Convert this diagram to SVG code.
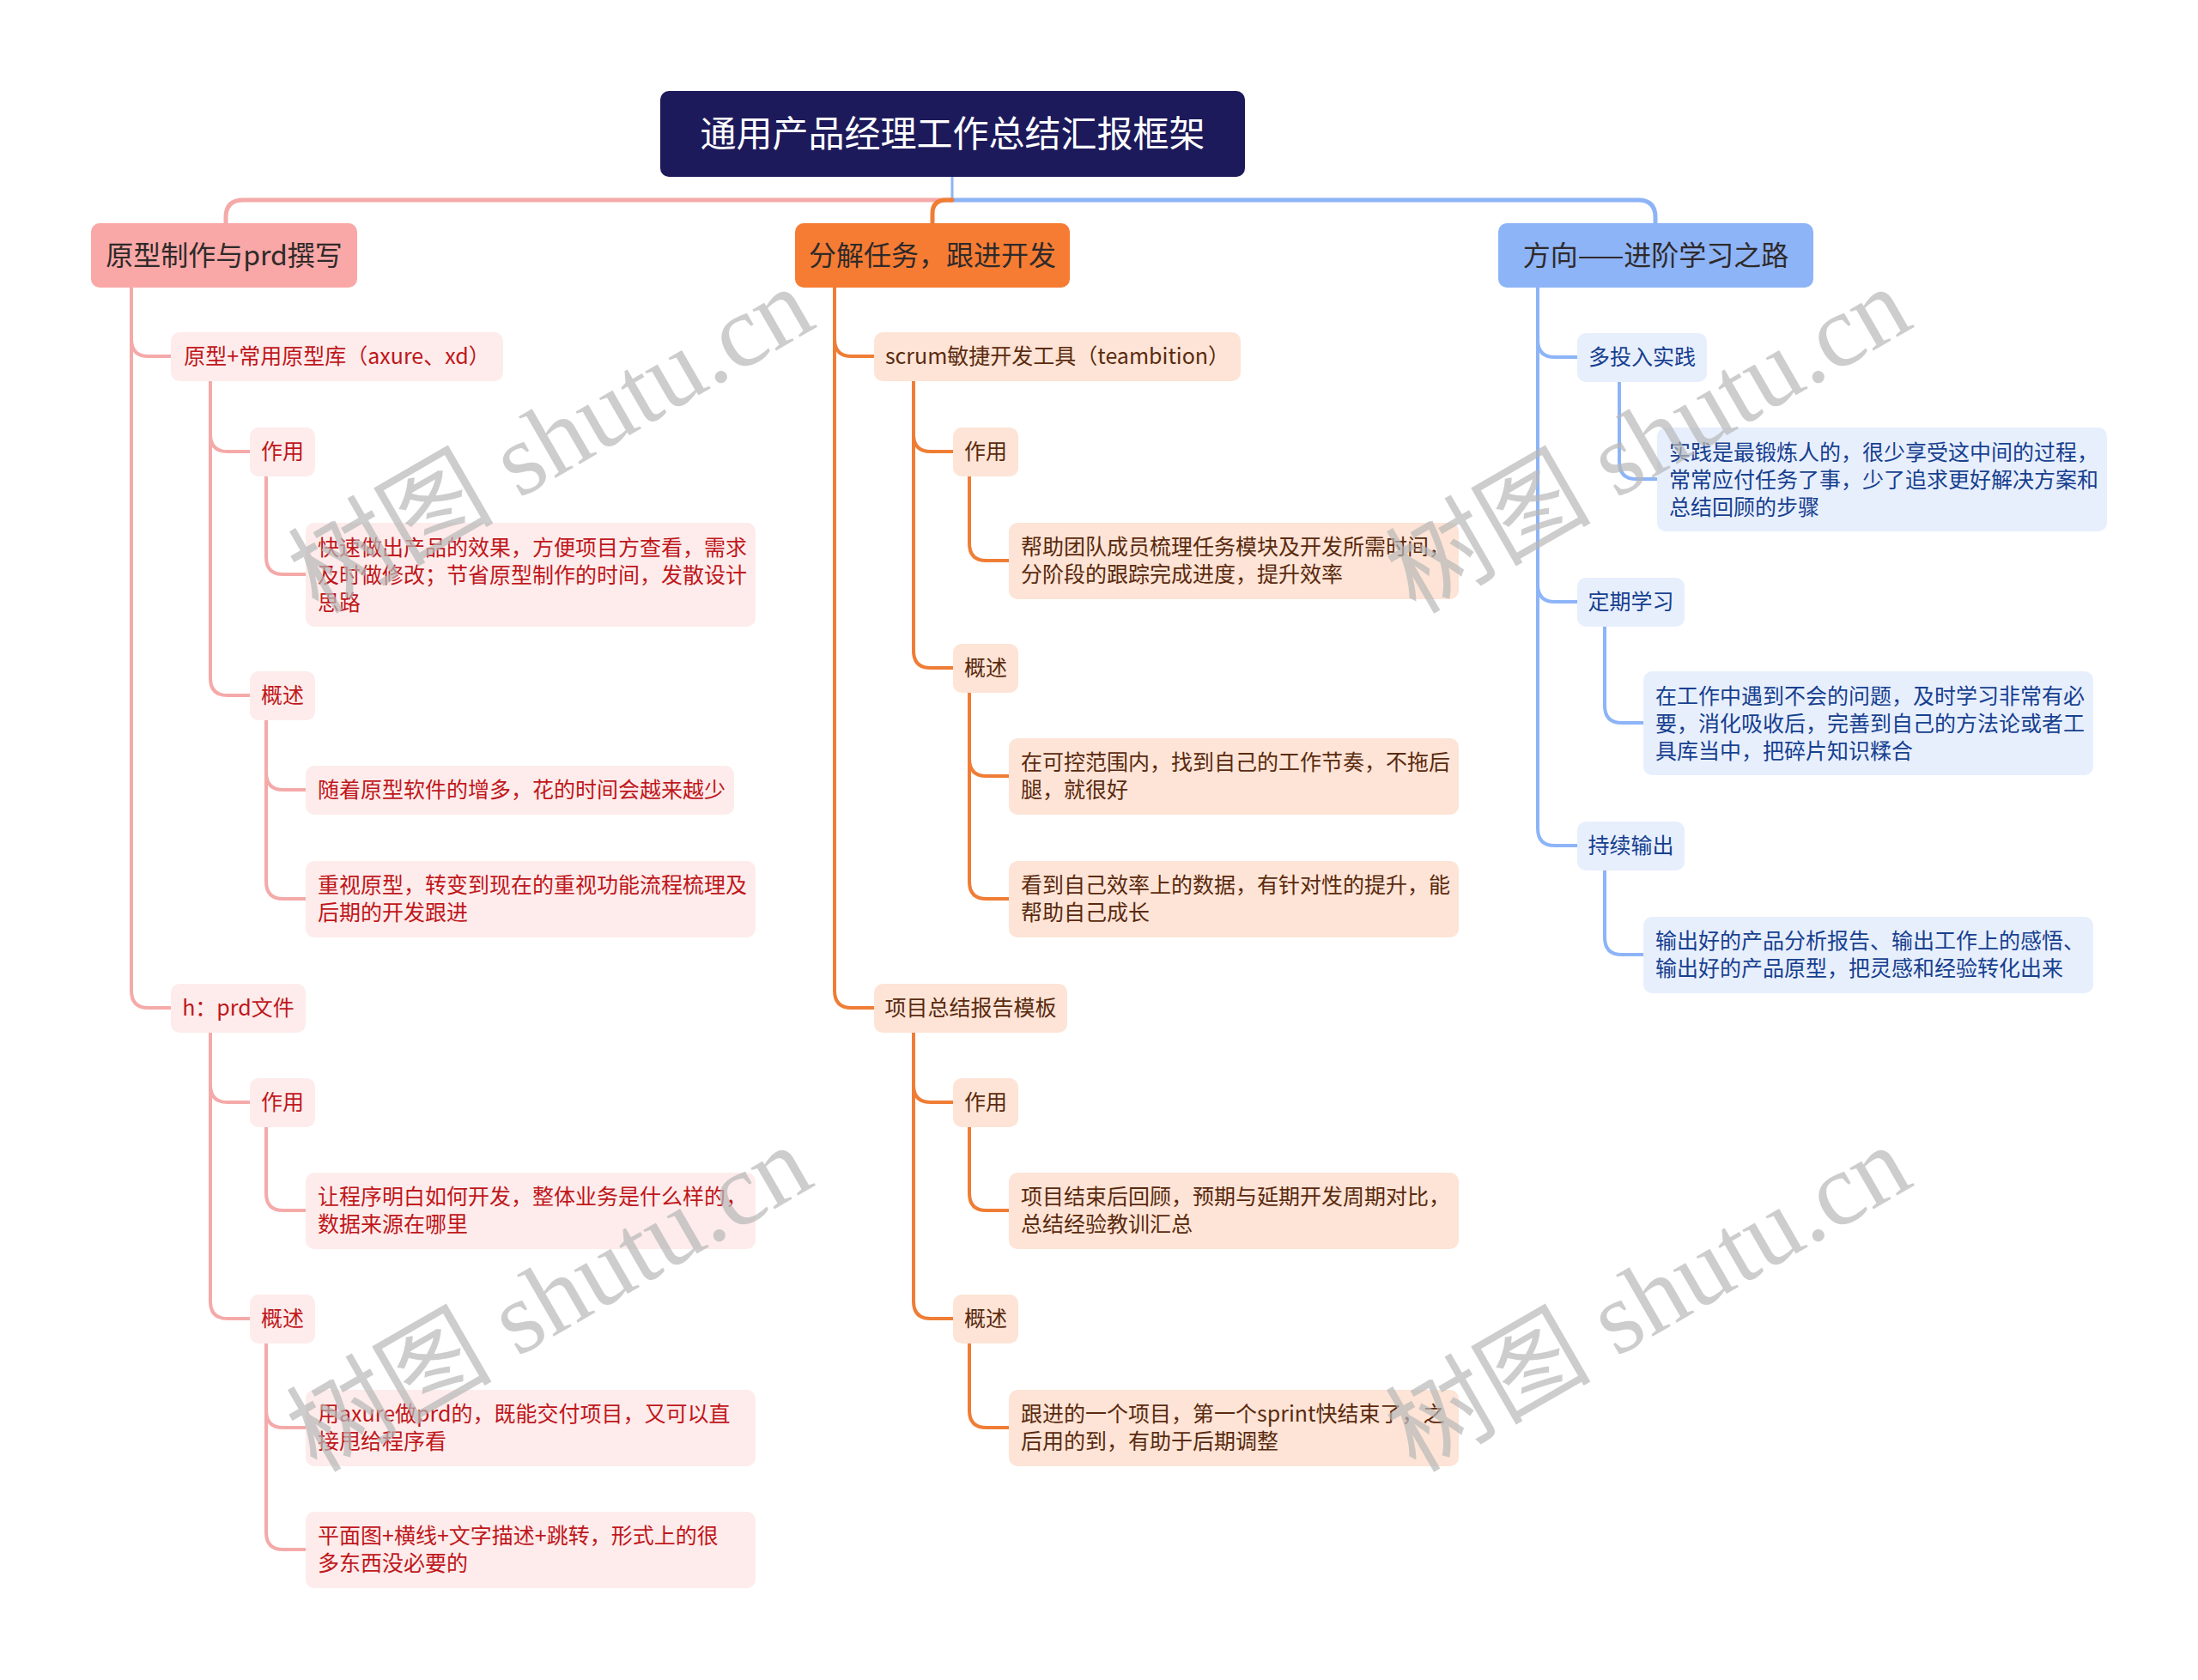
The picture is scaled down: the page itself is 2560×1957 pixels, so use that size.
<svg xmlns="http://www.w3.org/2000/svg" width="2560" height="1957" viewBox="0 0 2560 1957">
<style>
text{font-family:"Noto Sans CJK SC","Noto Sans",sans-serif}
.root{fill:#1d1a5b}
.rt{fill:#fff;font-size:42px}
.bt{fill:#2f2a2a;font-size:32px}
.b1{fill:#f9a8a7}.b2{fill:#f67c33}.b3{fill:#8db4f7}
.s1{fill:#fdeceb}.s2{fill:#fde4d6}.s3{fill:#e7effd}
.t1{fill:#c0171c;font-size:25px}.t2{fill:#5a2a0f;font-size:25px}.t3{fill:#17408f;font-size:25px}
.c{fill:none;stroke-linecap:round;stroke-linejoin:round}
.p{stroke:#f4aaa9}.o{stroke:#ef7d35}.u{stroke:#8db4f7}
.m{stroke-width:5}.n{stroke-width:4}
.wm{font-family:"Liberation Serif","Noto Sans CJK SC",serif;font-size:120px;fill:#b8b8b8;opacity:0.7}
</style>
<rect width="2560" height="1957" fill="#fff"/>
<g id="connectors">
<path class="c u" stroke-width="3" d="M1109,206 V233"/>
<path class="c p m" d="M1109,233 H283 Q263,233 263,253 V260"/>
<path class="c u m" d="M1109,233 H1908 Q1928,233 1928,253 V260"/>
<path class="c o m" d="M1109,233 H1102 Q1086,233 1086,249 V260"/>
<path class="c p n" d="M153,335 V395 Q153,415 173,415 H199"/>
<path class="c p n" d="M153,335 V1154 Q153,1174 173,1174 H199"/>
<path class="c p n" d="M245,444 V506 Q245,526 265,526 H291"/>
<path class="c p n" d="M245,444 V790 Q245,810 265,810 H291"/>
<path class="c p n" d="M310,555 V649 Q310,669 330,669 H356"/>
<path class="c p n" d="M310,839 V900 Q310,920 330,920 H356"/>
<path class="c p n" d="M310,839 V1027 Q310,1047 330,1047 H356"/>
<path class="c p n" d="M245,1203 V1264 Q245,1284 265,1284 H291"/>
<path class="c p n" d="M245,1203 V1516 Q245,1536 265,1536 H291"/>
<path class="c p n" d="M310,1313 V1390 Q310,1410 330,1410 H356"/>
<path class="c p n" d="M310,1565 V1643 Q310,1663 330,1663 H356"/>
<path class="c p n" d="M310,1565 V1785 Q310,1805 330,1805 H356"/>
<path class="c o n" d="M972,335 V395 Q972,415 992,415 H1018"/>
<path class="c o n" d="M972,335 V1154 Q972,1174 992,1174 H1018"/>
<path class="c o n" d="M1064,444 V506 Q1064,526 1084,526 H1110"/>
<path class="c o n" d="M1064,444 V758 Q1064,778 1084,778 H1110"/>
<path class="c o n" d="M1129,555 V633 Q1129,653 1149,653 H1175"/>
<path class="c o n" d="M1129,807 V884 Q1129,904 1149,904 H1175"/>
<path class="c o n" d="M1129,807 V1027 Q1129,1047 1149,1047 H1175"/>
<path class="c o n" d="M1064,1203 V1264 Q1064,1284 1084,1284 H1110"/>
<path class="c o n" d="M1064,1203 V1516 Q1064,1536 1084,1536 H1110"/>
<path class="c o n" d="M1129,1313 V1390 Q1129,1410 1149,1410 H1175"/>
<path class="c o n" d="M1129,1565 V1643 Q1129,1663 1149,1663 H1175"/>
<path class="c u n" d="M1791,335 V396 Q1791,416 1811,416 H1837"/>
<path class="c u n" d="M1791,335 V681 Q1791,701 1811,701 H1837"/>
<path class="c u n" d="M1791,335 V965 Q1791,985 1811,985 H1837"/>
<path class="c u n" d="M1886,445 V538 Q1886,558 1906,558 H1930"/>
<path class="c u n" d="M1869,730 V822 Q1869,842 1889,842 H1914"/>
<path class="c u n" d="M1869,1014 V1092 Q1869,1112 1889,1112 H1914"/>
</g>
<g id="root"><rect class="root" x="769" y="106" width="681" height="100" rx="10"/><text class="rt" x="1109.5" y="171" text-anchor="middle">通用产品经理工作总结汇报框架</text></g>
<g id="b1"><rect class="b1" x="106" y="260" width="310" height="75" rx="10"/><text class="bt" x="261" y="309" text-anchor="middle">原型制作与prd撰写</text></g>
<g id="b2"><rect class="b2" x="926" y="260" width="320" height="75" rx="10"/><text class="bt" x="1086" y="309" text-anchor="middle">分解任务，跟进开发</text></g>
<g id="b3"><rect class="b3" x="1745" y="260" width="367" height="75" rx="10"/><text class="bt" x="1928.5" y="309" text-anchor="middle">方向——进阶学习之路</text></g>

<g id="n1a"><rect class="s1" x="199" y="387" width="387" height="57" rx="10"/><text class="t1" x="392.5" y="424" text-anchor="middle">原型+常用原型库（axure、xd）</text></g>
<g id="n1a1"><rect class="s1" x="291" y="498" width="76" height="57" rx="10"/><text class="t1" x="329" y="535" text-anchor="middle">作用</text></g>
<g id="l1"><rect class="s1" x="356" y="609" width="524" height="121" rx="10"/><text class="t1" x="370" y="647">快速做出产品的效果，方便项目方查看，需求<tspan x="370" dy="32">及时做修改；节省原型制作的时间，发散设计</tspan><tspan x="370" dy="32">思路</tspan></text></g>
<g id="n1a2"><rect class="s1" x="291" y="782" width="76" height="57" rx="10"/><text class="t1" x="329" y="819" text-anchor="middle">概述</text></g>
<g id="l2"><rect class="s1" x="356" y="892" width="499" height="57" rx="10"/><text class="t1" x="370" y="929">随着原型软件的增多，花的时间会越来越少</text></g>
<g id="l3"><rect class="s1" x="356" y="1003" width="524" height="89" rx="10"/><text class="t1" x="370" y="1040">重视原型，转变到现在的重视功能流程梳理及<tspan x="370" dy="32">后期的开发跟进</tspan></text></g>
<g id="n1b"><rect class="s1" x="199" y="1146" width="157" height="57" rx="10"/><text class="t1" x="277.5" y="1183" text-anchor="middle">h：prd文件</text></g>
<g id="n1b1"><rect class="s1" x="291" y="1256" width="76" height="57" rx="10"/><text class="t1" x="329" y="1293" text-anchor="middle">作用</text></g>
<g id="l4"><rect class="s1" x="356" y="1366" width="524" height="89" rx="10"/><text class="t1" x="370" y="1403">让程序明白如何开发，整体业务是什么样的，<tspan x="370" dy="32">数据来源在哪里</tspan></text></g>
<g id="n1b2"><rect class="s1" x="291" y="1508" width="76" height="57" rx="10"/><text class="t1" x="329" y="1545" text-anchor="middle">概述</text></g>
<g id="l5"><rect class="s1" x="356" y="1619" width="524" height="89" rx="10"/><text class="t1" x="370" y="1656">用axure做prd的，既能交付项目，又可以直<tspan x="370" dy="32">接甩给程序看</tspan></text></g>
<g id="l6"><rect class="s1" x="356" y="1761" width="524" height="89" rx="10"/><text class="t1" x="370" y="1798">平面图+横线+文字描述+跳转，形式上的很<tspan x="370" dy="32">多东西没必要的</tspan></text></g>

<g id="n2a"><rect class="s2" x="1018" y="387" width="427" height="57" rx="10"/><text class="t2" x="1231.5" y="424" text-anchor="middle">scrum敏捷开发工具（teambition）</text></g>
<g id="n2a1"><rect class="s2" x="1110" y="498" width="76" height="57" rx="10"/><text class="t2" x="1148" y="535" text-anchor="middle">作用</text></g>
<g id="l7"><rect class="s2" x="1175" y="609" width="524" height="89" rx="10"/><text class="t2" x="1189" y="646">帮助团队成员梳理任务模块及开发所需时间，<tspan x="1189" dy="32">分阶段的跟踪完成进度，提升效率</tspan></text></g>
<g id="n2a2"><rect class="s2" x="1110" y="750" width="76" height="57" rx="10"/><text class="t2" x="1148" y="787" text-anchor="middle">概述</text></g>
<g id="l8"><rect class="s2" x="1175" y="860" width="524" height="89" rx="10"/><text class="t2" x="1189" y="897">在可控范围内，找到自己的工作节奏，不拖后<tspan x="1189" dy="32">腿，就很好</tspan></text></g>
<g id="l9"><rect class="s2" x="1175" y="1003" width="524" height="89" rx="10"/><text class="t2" x="1189" y="1040">看到自己效率上的数据，有针对性的提升，能<tspan x="1189" dy="32">帮助自己成长</tspan></text></g>
<g id="n2b"><rect class="s2" x="1018" y="1146" width="225" height="57" rx="10"/><text class="t2" x="1130.5" y="1183" text-anchor="middle">项目总结报告模板</text></g>
<g id="n2b1"><rect class="s2" x="1110" y="1256" width="76" height="57" rx="10"/><text class="t2" x="1148" y="1293" text-anchor="middle">作用</text></g>
<g id="l10"><rect class="s2" x="1175" y="1366" width="524" height="89" rx="10"/><text class="t2" x="1189" y="1403">项目结束后回顾，预期与延期开发周期对比，<tspan x="1189" dy="32">总结经验教训汇总</tspan></text></g>
<g id="n2b2"><rect class="s2" x="1110" y="1508" width="76" height="57" rx="10"/><text class="t2" x="1148" y="1545" text-anchor="middle">概述</text></g>
<g id="l11"><rect class="s2" x="1175" y="1619" width="524" height="89" rx="10"/><text class="t2" x="1189" y="1656">跟进的一个项目，第一个sprint快结束了，之<tspan x="1189" dy="32">后用的到，有助于后期调整</tspan></text></g>

<g id="n3a"><rect class="s3" x="1837" y="388" width="151" height="57" rx="10"/><text class="t3" x="1912.5" y="425" text-anchor="middle">多投入实践</text></g>
<g id="l12"><rect class="s3" x="1930" y="498" width="524" height="121" rx="10"/><text class="t3" x="1944" y="536">实践是最锻炼人的，很少享受这中间的过程，<tspan x="1944" dy="32">常常应付任务了事，少了追求更好解决方案和</tspan><tspan x="1944" dy="32">总结回顾的步骤</tspan></text></g>
<g id="n3b"><rect class="s3" x="1837" y="673" width="125" height="57" rx="10"/><text class="t3" x="1899.5" y="710" text-anchor="middle">定期学习</text></g>
<g id="l13"><rect class="s3" x="1914" y="782" width="524" height="121" rx="10"/><text class="t3" x="1928" y="820">在工作中遇到不会的问题，及时学习非常有必<tspan x="1928" dy="32">要，消化吸收后，完善到自己的方法论或者工</tspan><tspan x="1928" dy="32">具库当中，把碎片知识糅合</tspan></text></g>
<g id="n3c"><rect class="s3" x="1837" y="957" width="125" height="57" rx="10"/><text class="t3" x="1899.5" y="994" text-anchor="middle">持续输出</text></g>
<g id="l14"><rect class="s3" x="1914" y="1068" width="524" height="89" rx="10"/><text class="t3" x="1928" y="1105">输出好的产品分析报告、输出工作上的感悟、<tspan x="1928" dy="32">输出好的产品原型，把灵感和经验转化出来</tspan></text></g>

<g id="watermarks">
<text class="wm" text-anchor="middle" transform="translate(662,548) rotate(-30)">树图 shutu.cn</text>
<text class="wm" text-anchor="middle" transform="translate(660,1548) rotate(-30)">树图 shutu.cn</text>
<text class="wm" text-anchor="middle" transform="translate(1940,548) rotate(-30)">树图 shutu.cn</text>
<text class="wm" text-anchor="middle" transform="translate(1940,1548) rotate(-30)">树图 shutu.cn</text>
</g>
</svg>
